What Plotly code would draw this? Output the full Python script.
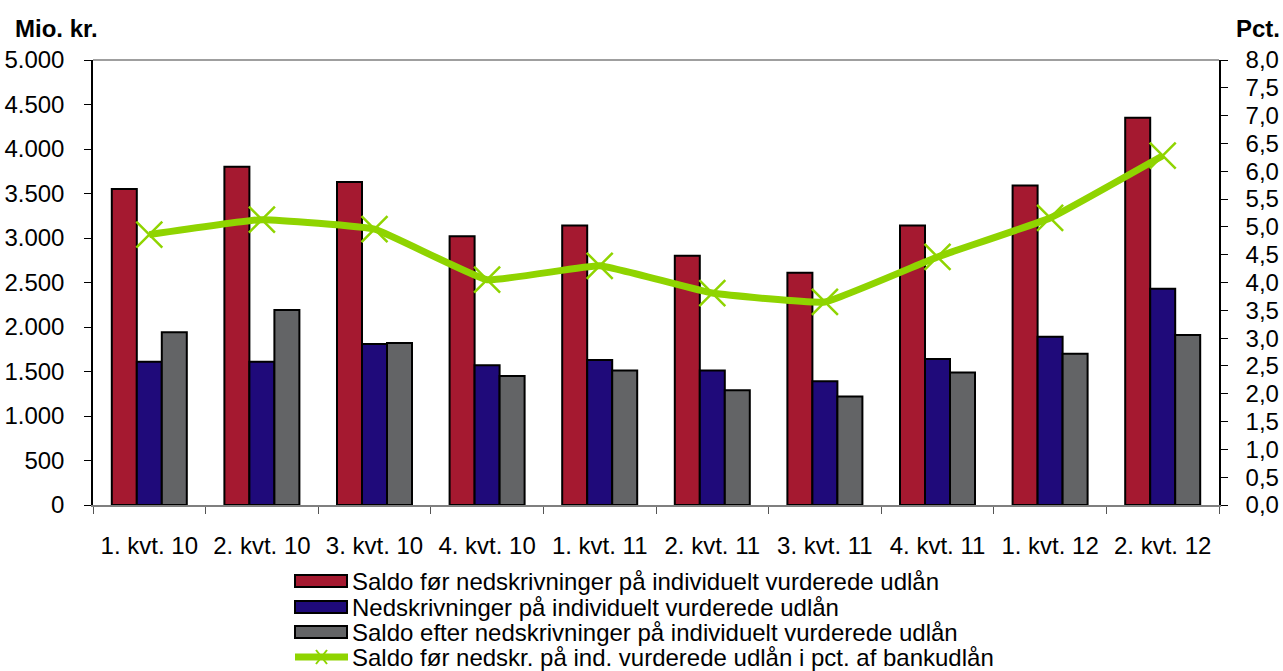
import plotly.graph_objects as go

categories = ["1. kvt. 10", "2. kvt. 10", "3. kvt. 10", "4. kvt. 10", "1. kvt. 11",
              "2. kvt. 11", "3. kvt. 11", "4. kvt. 11", "1. kvt. 12", "2. kvt. 12"]
saldo_foer = [3550, 3800, 3630, 3020, 3140, 2800, 2610, 3140, 3590, 4350]
nedskrivninger = [1610, 1610, 1810, 1570, 1630, 1510, 1390, 1640, 1890, 2430]
saldo_efter = [1940, 2190, 1820, 1450, 1510, 1290, 1220, 1490, 1700, 1910]
pct_bankudlaan = [4.86, 5.13, 4.96, 4.05, 4.30, 3.81, 3.65, 4.46, 5.16, 6.28]

names = ["Saldo før nedskrivninger på individuelt vurderede udlån",
         "Nedskrivninger på individuelt vurderede udlån",
         "Saldo efter nedskrivninger på individuelt vurderede udlån",
         "Saldo før nedskr. på ind. vurderede udlån i pct. af bankudlån"]
colors = ["#a51930", "#1f0a7a", "#636466"]
green = "#8fd400"

FONT = "Liberation Sans, Arial, Helvetica, sans-serif"
FS = 24

W, H = 1283, 671
L, R, T, B = 93, 64, 60, 166
PW, PH = W - L - R, H - T - B


def px(x):
    return (x - L) / PW


def py(y):
    return (H - B - y) / PH


fig = go.Figure()
for vals, name, col in zip([saldo_foer, nedskrivninger, saldo_efter], names[:3], colors):
    fig.add_trace(go.Bar(x=categories, y=vals, name=name, marker_color=col,
                         marker_line_color="black", marker_line_width=2))

fig.add_trace(go.Scatter(x=categories, y=pct_bankudlaan, name=names[3], yaxis="y2",
                         mode="lines+markers",
                         line=dict(color=green, width=7, shape="spline", smoothing=0.3),
                         marker=dict(symbol="x-thin", size=26, line=dict(color=green, width=2.5))))

# custom legend (the original chart's legend has tight rows and wide swatches)
shapes = [dict(type="line", xref="paper", yref="paper", x0=0, x1=1, y0=1, y1=1,
               line=dict(color="#7f7f7f", width=1.5))]
annotations = []
row_y = [581, 607, 632, 657]
for i, (name, yy) in enumerate(zip(names, row_y)):
    if i < 3:
        shapes.append(dict(type="rect", xref="paper", yref="paper",
                           x0=px(295), x1=px(347), y0=py(yy - 6), y1=py(yy + 6),
                           fillcolor=colors[i], line=dict(color="black", width=2)))
    else:
        shapes.append(dict(type="line", xref="paper", yref="paper",
                           x0=px(295), x1=px(348), y0=py(yy), y1=py(yy),
                           line=dict(color=green, width=7)))
        shapes.append(dict(type="line", xref="paper", yref="paper",
                           x0=px(316), x1=px(327), y0=py(yy - 7), y1=py(yy + 7),
                           line=dict(color=green, width=2)))
        shapes.append(dict(type="line", xref="paper", yref="paper",
                           x0=px(316), x1=px(327), y0=py(yy + 7), y1=py(yy - 7),
                           line=dict(color=green, width=2)))
    annotations.append(dict(text=name, xref="paper", yref="paper", x=px(350), y=py(yy),
                            xanchor="left", yanchor="middle", showarrow=False,
                            font=dict(size=FS, family=FONT)))

annotations += [
    dict(text="<b>Mio. kr.</b>", xref="paper", yref="paper", x=px(13), y=py(29),
         xanchor="left", yanchor="middle", showarrow=False, font=dict(size=FS)),
    dict(text="<b>Pct.</b>", xref="paper", yref="paper", x=px(1282), y=py(29),
         xanchor="right", yanchor="middle", showarrow=False, font=dict(size=FS)),
]

fig.update_layout(
    width=W, height=H,
    margin=dict(l=L, r=R, t=T, b=B, autoexpand=False),
    plot_bgcolor="white", paper_bgcolor="white",
    separators=",.",
    barmode="group", bargap=0.334, bargroupgap=0,
    font=dict(family=FONT, size=FS, color="black"),
    showlegend=False,
    xaxis=dict(range=[-0.5, len(categories) - 0.5], showline=True, linecolor="#7f7f7f",
               linewidth=1.5, ticks="outside",
               tickson="boundaries", ticklen=7, tickcolor="#555555",
               ticklabelstandoff=18,
               tickfont=dict(size=FS), mirror=False, showgrid=False),
    yaxis=dict(range=[0, 5000], dtick=500, tickformat=",d", showline=True,
               linecolor="black", linewidth=1.5, ticks="outside", ticklen=7,
               tickcolor="black", showgrid=False, zeroline=False,
               ticklabelstandoff=15, tickfont=dict(size=FS)),
    yaxis2=dict(range=[0, 8], dtick=0.5, tickformat=".1f", overlaying="y", side="right",
                showline=True, linecolor="black", linewidth=1.5, ticks="outside",
                ticklen=7, tickcolor="black", showgrid=False, zeroline=False,
                ticklabelstandoff=13, tickfont=dict(size=FS)),
    shapes=shapes,
    annotations=annotations,
)

fig.write_html("out.html", config={"displayModeBar": False},
               post_script="document.body.style.margin='0';")
